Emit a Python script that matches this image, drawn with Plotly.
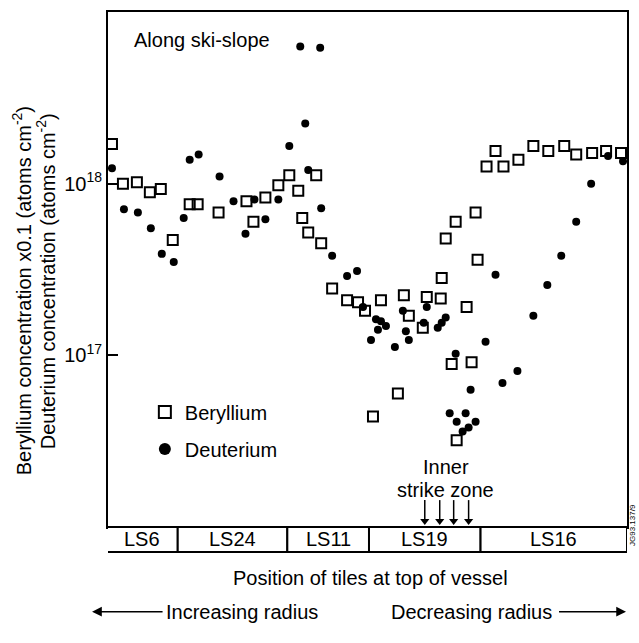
import plotly.graph_objects as go

# Position along the tiles (arbitrary units, 0 = left edge of plot) and concentrations (atoms cm^-2)
be_pos = [4, 15, 29, 42, 53, 65, 82, 90, 111, 139, 146, 158, 171, 182, 191, 209, 195, 201, 214,
          225, 240, 251, 258, 266, 274, 291, 297, 302, 316, 320, 334, 335, 339, 345, 349, 350,
          360, 365, 369, 371, 380, 389, 397, 412, 427, 442, 458, 470, 486, 500, 515]
be_conc = [1.70e18, 1.00e18, 1.02e18, 8.9e17, 9.3e17, 4.7e17, 7.6e17, 7.6e17, 6.8e17, 7.9e17,
           6.0e17, 8.3e17, 9.8e17, 1.12e18, 9.1e17, 1.12e18, 6.3e17, 5.2e17, 4.5e17,
           2.45e17, 2.09e17, 2.04e17, 1.82e17, 4.4e16, 2.09e17, 6.0e16, 2.24e17, 1.70e17,
           1.45e17, 2.19e17, 2.14e17, 2.82e17, 4.8e17, 8.9e16, 6.0e17, 3.2e16,
           1.91e17, 9.1e16, 6.8e17, 3.6e17, 1.26e18, 1.55e18, 1.26e18, 1.38e18, 1.66e18,
           1.55e18, 1.66e18, 1.48e18, 1.51e18, 1.55e18, 1.51e18]

d_pos = [4, 16, 30, 43, 54, 66, 76, 82, 91, 112, 126, 138, 147, 158, 171, 182, 193, 198, 201,
         213, 214, 225, 240, 250, 256, 264, 269, 271, 274, 279, 288, 296, 299, 302, 317, 320,
         331, 335, 339, 343, 349, 350, 356, 359, 362, 364, 369, 379, 389, 396, 411, 427, 441,
         455, 470, 485, 502, 517]
d_conc = [1.23e18, 7.1e17, 6.8e17, 5.5e17, 3.9e17, 3.5e17, 6.3e17, 1.38e18, 1.48e18, 1.10e18,
          7.9e17, 5.1e17, 8.1e17, 6.2e17, 8.1e17, 1.66e18, 6.3e18, 2.24e18, 1.20e18,
          6.2e18, 7.2e17, 3.8e17, 2.9e17, 3.1e17, 1.91e17, 1.23e17, 1.62e17, 1.41e17,
          1.58e17, 1.48e17, 1.12e17, 1.82e17, 1.38e17, 1.23e17, 1.55e17, 1.91e17,
          1.45e17, 1.55e17, 1.66e17, 4.6e16, 1.02e17, 4.1e16, 3.6e16, 4.6e16, 3.8e16,
          6.3e16, 4.1e16, 1.20e17, 2.95e17, 6.9e16, 8.1e16, 1.70e17, 2.57e17,
          3.8e17, 6.0e17, 1.00e18, 1.45e18, 1.35e18]

# Tiles at the top of the vessel
tile_names = ["LS6", "LS24", "LS11", "LS19", "LS16"]
tile_edges = [-2, 70, 180, 262, 374, 521]
strike_arrows_x = [318, 333, 347, 362]

y_tickvals = [1e17, 1e18]
y_ticktext = ["10<sup>17</sup>", "10<sup>18</sup>"]

FONT = "Liberation Sans, Arial, Helvetica, sans-serif"
FS = 20

W, H = 639, 643
L, R, T, B = 108, 10, 10, 116
pw, ph = W - L - R, H - T - B


def px(xp):
    return (xp - L) / pw


def py(yp):
    return (H - B - yp) / ph


fig = go.Figure()
fig.add_trace(go.Scatter(
    x=be_pos, y=be_conc, mode="markers", name="Beryllium", legendgroup="be",
    marker=dict(symbol="square-open", size=10, color="black", line=dict(width=2, color="black")),
))
fig.add_trace(go.Scatter(
    x=d_pos, y=d_conc, mode="markers", name="Deuterium", legendgroup="d",
    marker=dict(symbol="circle", size=8, color="black"),
))

# Arrow heads of the strike-zone arrows
tip_y = 10 ** (16 + (527 - 521) / ph * 3)
fig.add_trace(go.Scatter(
    x=strike_arrows_x, y=[tip_y] * len(strike_arrows_x), mode="markers", showlegend=False,
    marker=dict(symbol="triangle-down", size=8, color="black"), hoverinfo="skip",
))
for xa in strike_arrows_x:
    fig.add_shape(type="line", xref="x", yref="paper", x0=xa, x1=xa, y0=py(500), y1=py(520),
                  line=dict(color="black", width=1.5))

fig.update_layout(
    width=W, height=H,
    margin=dict(l=L, r=R, t=T, b=B),
    paper_bgcolor="white", plot_bgcolor="white",
    font=dict(family=FONT, size=FS, color="black"),
    showlegend=True,
    legend=dict(x=px(145), y=py(392), xanchor="left", yanchor="top",
                bgcolor="rgba(0,0,0,0)", font=dict(size=FS), tracegroupgap=8,
                itemsizing="constant"),
    xaxis=dict(range=[0, 521], showline=True, mirror=True, linecolor="black", linewidth=2,
               showgrid=False, zeroline=False, ticks="", showticklabels=False),
    yaxis=dict(type="log", range=[16, 19], showline=True, mirror=True, linecolor="black",
               linewidth=2, showgrid=False, zeroline=False, ticks="inside", ticklen=10,
               tickwidth=2, tickcolor="black", tickvals=y_tickvals, ticktext=y_ticktext,
               tickfont=dict(size=FS)),
)

# Tile bar below the plot
bar_top, bar_bot = 0, -(552 - 527) / ph
for i, name in enumerate(tile_names):
    x0, x1 = tile_edges[i], tile_edges[i + 1]
    fig.add_shape(type="rect", xref="x", yref="paper", x0=x0, x1=x1, y0=bar_bot, y1=bar_top,
                  line=dict(color="black", width=2), fillcolor="white")
    fig.add_annotation(x=(x0 + x1) / 2, y=(bar_top + bar_bot) / 2, xref="x", yref="paper",
                       text=name, showarrow=False, font=dict(size=FS), yanchor="middle")


def label(xp, yp, text, angle=0, size=FS, xanchor="center"):
    fig.add_annotation(x=px(xp), y=py(yp), xref="paper", yref="paper", text=text,
                       showarrow=False, textangle=angle, xanchor=xanchor, yanchor="middle",
                       font=dict(size=size))


# Inner strike zone
label(447, 467, "Inner")
label(447, 490, "strike zone")

# In-plot texts
label(132, 38, "Along ski-slope", xanchor="left")

# Y title (two lines)
label(22, 290, "Beryllium concentration x0.1 (atoms cm<sup>-2</sup>)", angle=-90)
label(46, 280, "Deuterium concentration (atoms cm<sup>-2</sup>)", angle=-90)

# Bottom texts
label(372, 578, "Position of tiles at top of vessel")
# Arrowed labels: the arrow runs from the text to the tip
fig.add_annotation(x=px(92), y=py(612), xref="paper", yref="paper",
                   text="Increasing radius", showarrow=True, ax=150, ay=0,
                   arrowhead=2, arrowsize=1.3, arrowwidth=1.5, arrowcolor="black",
                   standoff=0, startstandoff=2, font=dict(size=FS))
fig.add_annotation(x=px(628), y=py(612), xref="paper", yref="paper",
                   text="Decreasing radius", showarrow=True, ax=-155, ay=0,
                   arrowhead=2, arrowsize=1.3, arrowwidth=1.5, arrowcolor="black",
                   standoff=0, startstandoff=6, font=dict(size=FS))

# Figure reference code
label(634, 525, "JG93.137/9", angle=-90, size=8)

fig.write_html("out.html")
